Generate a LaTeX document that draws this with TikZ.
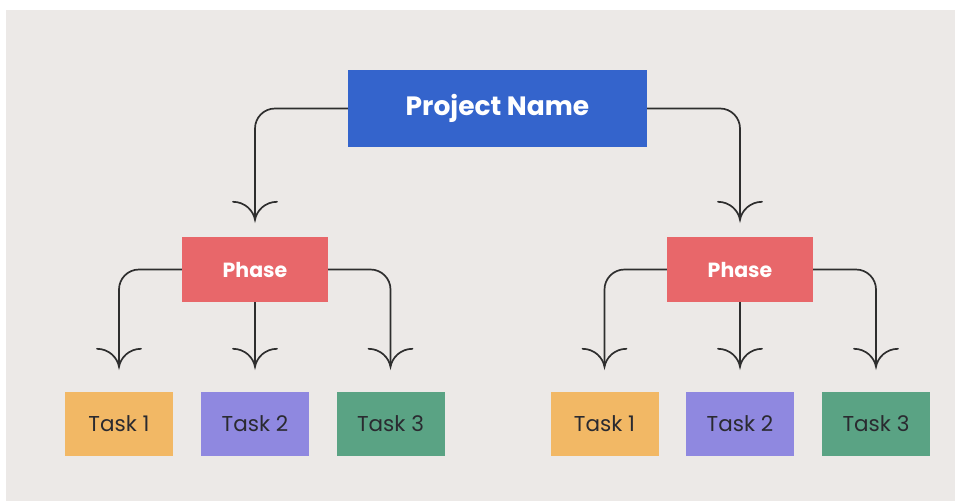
\documentclass[tikz,border=0pt]{standalone}
\usepackage{fontspec}
\setmainfont{Poppins}
\usetikzlibrary{arrows.meta}
\definecolor{bg}{HTML}{ECE9E7}
\definecolor{projblue}{HTML}{3464CC}
\definecolor{phasered}{HTML}{E8676A}
\definecolor{taskorange}{HTML}{F2B865}
\definecolor{taskpurple}{HTML}{8F88E0}
\definecolor{taskgreen}{HTML}{5AA384}
\definecolor{linegray}{HTML}{2E2E2E}
\definecolor{tasktext}{HTML}{2A2A30}
\pgfdeclarearrow{
  name=CurvyBarb,
  setup code={
    \pgfarrowssettipend{0pt}
    \pgfarrowssetlineend{-1pt}
    \pgfarrowssetvisualbackend{-18pt}
    \pgfarrowssetbackend{-18pt}
    \pgfarrowsupperhullpoint{-18pt}{22pt}
    \pgfarrowsupperhullpoint{0pt}{0pt}
  },
  drawing code={
    \pgfsetdash{}{0pt}
    \pgfsetroundcap
    \pgfpathmoveto{\pgfpoint{-18pt}{22pt}}
    \pgfpathcurveto{\pgfpoint{-18pt}{10pt}}{\pgfpoint{-9pt}{1.5pt}}{\pgfpointorigin}
    \pgfpathcurveto{\pgfpoint{-9pt}{-1.5pt}}{\pgfpoint{-18pt}{-10pt}}{\pgfpoint{-18pt}{-22pt}}
    \pgfusepathqstroke
  }
}
\tikzset{
  box/.style={rectangle, inner sep=0pt, anchor=center},
  projbox/.style={box, fill=projblue, minimum width=299pt, minimum height=77pt,
    text=white, font=\fontsize{26.5}{30}\selectfont\bfseries},
  phasebox/.style={box, fill=phasered, minimum width=146pt, minimum height=65pt,
    text=white, font=\fontsize{20.5}{24}\selectfont\bfseries},
  taskbox/.style={box, minimum width=108pt, minimum height=64pt,
    text=tasktext, font=\fontsize{21.5}{25}\selectfont},
  conn/.style={draw=linegray, line width=1.7pt, rounded corners=20pt, -CurvyBarb},
}
\begin{document}
\begin{tikzpicture}[x=1pt, y=-1pt]
\useasboundingbox (0,0) rectangle (955,501);
\fill[white] (0,0) rectangle (955,501);
\fill[bg] (6,10) rectangle (955,501);

\node[projbox] (proj) at (497.5,108.5) {Project Name};
\node[phasebox] (phL) at (255,269.5) {Phase};
\node[phasebox] (phR) at (740,269.5) {Phase};

\node[taskbox, fill=taskorange] (l1) at (119,424) {Task 1};
\node[taskbox, fill=taskpurple] (l2) at (255,424) {Task 2};
\node[taskbox, fill=taskgreen]  (l3) at (390.5,424) {Task 3};
\node[taskbox, fill=taskorange] (r1) at (604.5,424) {Task 1};
\node[taskbox, fill=taskpurple] (r2) at (740,424) {Task 2};
\node[taskbox, fill=taskgreen]  (r3) at (876,424) {Task 3};

\draw[conn] (proj.west) -| ([yshift=17pt]phL.north);
\draw[conn] (proj.east) -| ([yshift=17pt]phR.north);

\draw[conn] (phL.west) -| ([yshift=25pt]l1.north);
\draw[conn] (phL.south) -- ([yshift=25pt]l2.north);
\draw[conn] (phL.east) -| ([yshift=25pt]l3.north);

\draw[conn] (phR.west) -| ([yshift=25pt]r1.north);
\draw[conn] (phR.south) -- ([yshift=25pt]r2.north);
\draw[conn] (phR.east) -| ([yshift=25pt]r3.north);
\end{tikzpicture}
\end{document}
